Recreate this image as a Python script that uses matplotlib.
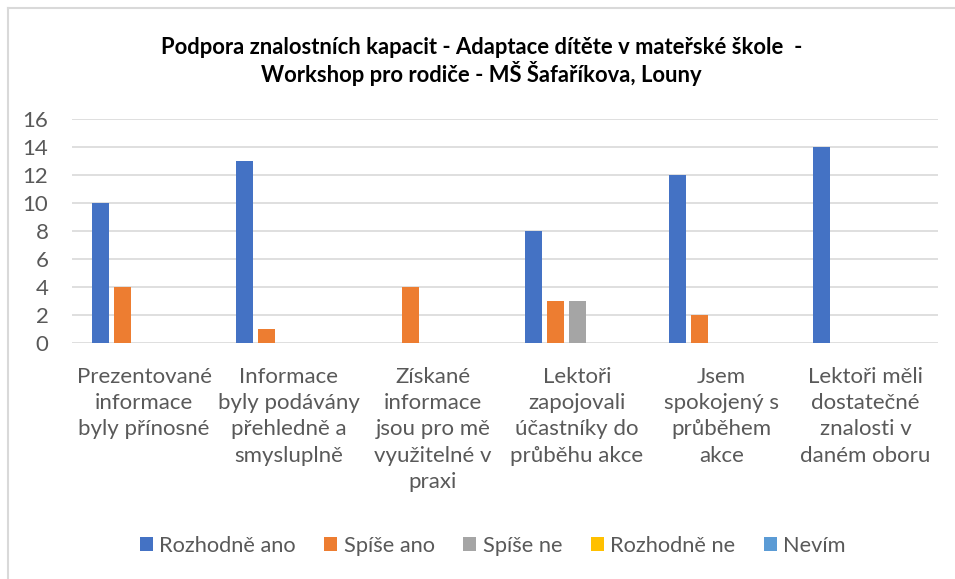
import numpy as np
import matplotlib.pyplot as plt
from matplotlib.lines import Line2D

categories = ["Prezentované\ninformace\nbyly přínosné",
              "Informace\nbyly podávány\npřehledně a\nsmysluplně",
              "Získané\ninformace\njsou pro mě\nvyužitelné v\npraxi",
              "Lektoři\nzapojovali\núčastníky do\nprůběhu akce",
              "Jsem\nspokojený s\nprůběhem\nakce",
              "Lektoři měli\ndostatečné\nznalosti v\ndaném oboru"]

series_names = ["Rozhodně ano", "Spíše ano", "Spíše ne", "Rozhodně ne", "Nevím"]
rozhodne_ano = [10, 13, 0, 8, 12, 14]
spise_ano = [4, 1, 4, 3, 2, 0]
spise_ne = [0, 0, 0, 3, 0, 0]
rozhodne_ne = [0, 0, 0, 0, 0, 0]
nevim = [0, 0, 0, 0, 0, 0]

colors = ["#4472C4", "#ED7D31", "#A5A5A5", "#FFC000", "#5B9BD5"]
txt = "#595959"

plt.rcParams['font.family'] = ['Lato', 'DejaVu Sans']

fig = plt.figure(figsize=(9.55, 5.79), dpi=100)
ax = fig.add_axes([0.0754, 0.4076, 0.9066, 0.3869])

x = np.arange(len(categories))
step = 0.152
width = 0.118
data = [rozhodne_ano, spise_ano, spise_ne, rozhodne_ne, nevim]
for i, (name, vals) in enumerate(zip(series_names, data)):
    ax.bar(x + (i - 2) * step, vals, width, color=colors[i], label=name, zorder=3)

ax.set_xlim(-0.5, len(categories) - 0.5)
ax.set_ylim(0, 16)
ax.set_yticks(range(0, 17, 2))
ax.yaxis.grid(True, color="#d9d9d9", linewidth=1.2)
ax.set_axisbelow(True)
for s in ax.spines.values():
    s.set_visible(False)
ax.tick_params(axis='both', length=0, labelsize=16, colors=txt)
ax.tick_params(axis='x', pad=17)
ax.tick_params(axis='y', pad=17)
ax.set_xticks(x)
ax.set_xticklabels(categories, linespacing=1.4, va='top')

fig.text(0.504, 0.894, "Podpora znalostních kapacit - Adaptace dítěte v mateřské škole  -\n"
         "Workshop pro rodiče - MŠ Šafaříkova, Louny",
         ha='center', va='center', fontsize=15.8, fontweight='bold', color='black',
         linespacing=1.15)

leg = fig.legend(loc='center', bbox_to_anchor=(0.516, 0.057), ncol=5, frameon=False,
                 fontsize=15.7, handlelength=0.6, handleheight=0.6, handletextpad=0.3,
                 columnspacing=1.3)
for t in leg.get_texts():
    t.set_color(txt)

# chart border (only top and left visible in the crop)
fig.add_artist(Line2D([7.5 / 955, 1], [1 - 7.5 / 579] * 2, color="#d9d9d9", lw=1.5))
fig.add_artist(Line2D([7.5 / 955] * 2, [0, 1 - 7.5 / 579], color="#d9d9d9", lw=1.5))

fig.savefig("out.png", dpi=100)
